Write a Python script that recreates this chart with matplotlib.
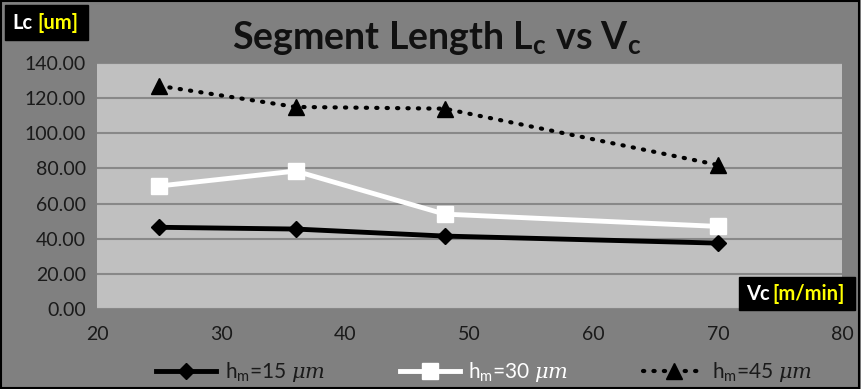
import numpy as np
import matplotlib.pyplot as plt

plt.rcParams['font.family'] = ['Lato', 'DejaVu Sans']
plt.rcParams['mathtext.fontset'] = 'custom'
plt.rcParams['mathtext.rm'] = 'Lato'
plt.rcParams['mathtext.bf'] = 'Lato:bold'
plt.rcParams['mathtext.it'] = 'DejaVu Serif:italic'

vc = [25, 36, 48, 70]
lc_15 = [46.5, 45.5, 41.5, 37.5]
lc_30 = [70.0, 78.5, 54.0, 47.0]
lc_45 = [127.0, 115.0, 114.0, 82.0]

fig = plt.figure(figsize=(8.61, 3.89), dpi=100, facecolor='#808080')
ax = fig.add_axes([97/861, 1 - 309/389, (842-97)/861, (309-63)/389])
ax.set_facecolor('#c0c0c0')

ax.plot(vc, lc_15, color='black', lw=3.5, marker='D', ms=8,
        label=r'h$_\mathrm{m}$=15 $\mathit{\mu m}$', zorder=3)
ax.plot(vc, lc_30, color='white', lw=3.5, marker='s', ms=12,
        label=r'h$_\mathrm{m}$=30 $\mathit{\mu m}$', zorder=3)
ax.plot(vc, lc_45, color='black', lw=3, ls=(0, (0.3, 2.2)), dash_capstyle='round',
        marker='^', ms=11, label=r'h$_\mathrm{m}$=45 $\mathit{\mu m}$', zorder=3)

ax.set_xlim(20, 80)
ax.set_ylim(0, 140)
ax.set_xticks(np.arange(20, 81, 10))
ax.set_yticks(np.arange(0, 141, 20))
ax.set_yticklabels([f'{v:.2f}' for v in np.arange(0, 141, 20)])
ax.yaxis.grid(True, color='#888888', lw=1.5)
ax.set_axisbelow(True)
for s in ax.spines.values():
    s.set_visible(False)
ax.tick_params(axis='both', labelsize=14, colors='#1a1a1a', length=0, pad=8)
ax.tick_params(axis='x', pad=12)

fig.text(437/861, 1 - 38/389, r'Segment Length L$_\mathbf{c}$ vs V$_\mathbf{c}$',
         fontsize=27, fontweight='bold', ha='center', va='center', color='#111111')

# axis label boxes
fig.patches.append(plt.Rectangle((5/861, 1 - 40/389), 83/861, 35/389, transform=fig.transFigure,
                                 color='black', zorder=5))
fig.text(12/861, 1 - 23/389, 'Lc', fontsize=14.5, fontweight='bold', color='white', va='center', zorder=6)
fig.text(37/861, 1 - 23/389, '[um]', fontsize=14.5, fontweight='bold', color='#ffff00', va='center', zorder=6)
fig.patches.append(plt.Rectangle((739/861, 1 - 310/389), 116/861, 33/389, transform=fig.transFigure,
                                 color='black', zorder=5))
fig.text(746/861, 1 - 294/389, 'Vc', fontsize=14.5, fontweight='bold', color='white', va='center', zorder=6)
fig.text(772/861, 1 - 294/389, '[m/min]', fontsize=14.5, fontweight='bold', color='#ffff00', va='center', zorder=6)

leg = fig.legend(loc='center', bbox_to_anchor=(484/861, 1 - 372/389), ncol=3, frameon=False,
                 fontsize=15, numpoints=1, handlelength=2.9, columnspacing=3.6, handletextpad=0.4)
leg.get_texts()[0].set_color('#1a1a1a')
leg.get_texts()[1].set_color('white')
leg.get_texts()[2].set_color('#1a1a1a')

fig.patches.append(plt.Rectangle((0.001, 0.002), 0.997, 0.996, transform=fig.transFigure,
                                 fill=False, edgecolor='black', lw=1.5))

fig.savefig('out.png', dpi=100, facecolor=fig.get_facecolor())
